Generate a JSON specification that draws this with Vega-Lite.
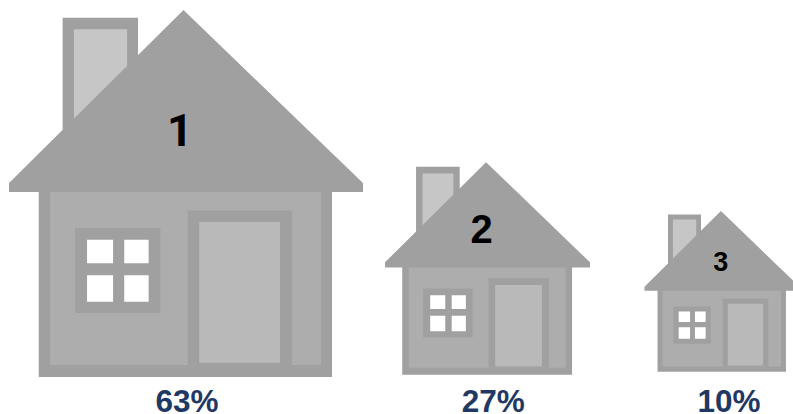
{
  "$schema": "https://vega.github.io/schema/vega-lite/v6.json",
  "width": 793,
  "height": 414,
  "padding": 0,
  "autosize": {"type": "fit", "contains": "padding"},
  "background": "white",
  "config": {"view": {"stroke": null}},
  "data": {
    "values": [
      {"rank": 1, "share": 0.63},
      {"rank": 2, "share": 0.27},
      {"rank": 3, "share": 0.10}
    ]
  },
  "resolve": {"scale": {"x": "independent", "y": "independent", "size": "independent"}},
  "layer": [
    {
      "encoding": {
        "x": {"field": "rank", "type": "quantitative", "axis": null,
          "scale": {"domain": [1, 2, 3], "range": [186, 487.5, 722], "zero": false, "nice": false}},
        "y": {"field": "rank", "type": "quantitative", "axis": null,
          "scale": {"domain": [1, 2, 3], "range": [377, 374.7, 371.7], "zero": false, "nice": false}},
        "size": {"field": "share", "type": "quantitative", "legend": null,
          "scale": {"domain": [0.10, 0.27, 0.63], "range": [24025, 42025, 125316], "zero": false, "nice": false}}
      },
      "layer": [
        {"mark": {"type": "point", "filled": true, "opacity": 1, "clip": true, "fill": "#a0a0a0", "strokeWidth": 0,
          "shape": "M-0.697,-1.2L-0.697,-2.03L-0.271,-2.03L-0.271,-1.2ZM-0.832,-1.06L0.825,-1.06L0.825,0L-0.832,0Z"}},
        {"mark": {"type": "point", "filled": true, "opacity": 1, "clip": true, "fill": "#c6c6c6", "strokeWidth": 0,
          "shape": "M-0.633,-1.3L-0.633,-1.964L-0.333,-1.964L-0.333,-1.3Z"}},
        {"mark": {"type": "point", "filled": true, "opacity": 1, "clip": true, "fill": "#adadad", "strokeWidth": 0,
          "shape": "M-0.768,-1.06L0.763,-1.06L0.763,-0.068L-0.768,-0.068Z"}},
        {"mark": {"type": "point", "filled": true, "opacity": 1, "clip": true, "fill": "#a0a0a0", "strokeWidth": 0,
          "shape": "M-1,-1.045L-1,-1.096L-0.014,-2.073L1,-1.096L1,-1.045ZM0.01,-0.94L0.599,-0.94L0.599,-0.068L0.01,-0.068ZM-0.627,-0.842L-0.145,-0.842L-0.145,-0.362L-0.627,-0.362Z"}},
        {"mark": {"type": "point", "filled": true, "opacity": 1, "clip": true, "fill": "#b9b9b9", "strokeWidth": 0,
          "shape": "M0.075,-0.876L0.531,-0.876L0.531,-0.081L0.075,-0.081Z"}},
        {"mark": {"type": "point", "filled": true, "opacity": 1, "clip": true, "fill": "#ffffff", "strokeWidth": 0,
          "shape": "M-0.559,-0.776L-0.412,-0.776L-0.412,-0.642L-0.559,-0.642ZM-0.349,-0.776L-0.211,-0.776L-0.211,-0.642L-0.349,-0.642ZM-0.559,-0.575L-0.412,-0.575L-0.412,-0.425L-0.559,-0.425ZM-0.349,-0.575L-0.211,-0.575L-0.211,-0.425L-0.349,-0.425Z"}}
      ]
    },
    {
      "encoding": {
        "text": {"field": "rank", "type": "nominal"},
        "x": {"field": "rank", "type": "quantitative", "axis": null,
          "scale": {"domain": [1, 2, 3], "range": [180, 481.7, 720.7], "zero": false, "nice": false}},
        "y": {"field": "rank", "type": "quantitative", "axis": null,
          "scale": {"domain": [1, 2, 3], "range": [131.5, 231, 262.5], "zero": false, "nice": false}},
        "size": {"field": "share", "type": "quantitative", "legend": null,
          "scale": {"domain": [0.10, 0.27, 0.63], "range": [27, 40, 45], "zero": false, "nice": false}}
      },
      "layer": [
        {
          "transform": [{"filter": "datum.rank === 1"}],
          "mark": {"type": "text", "font": "Roboto", "fontWeight": "bold", "fill": "#000000", "align": "center", "baseline": "middle"}
        },
        {
          "transform": [{"filter": "datum.rank > 1"}],
          "mark": {"type": "text", "font": "Liberation Sans", "fontWeight": "bold", "fill": "#000000", "align": "center", "baseline": "middle"}
        }
      ]
    },
    {
      "mark": {"type": "text", "font": "Liberation Sans", "fontWeight": "bold", "fontSize": 31.5, "fill": "#1f3864", "align": "center", "baseline": "middle"},
      "encoding": {
        "text": {"field": "share", "type": "quantitative", "format": ".0%"},
        "x": {"field": "rank", "type": "quantitative", "axis": null,
          "scale": {"domain": [1, 2, 3], "range": [187, 493.3, 729], "zero": false, "nice": false}},
        "y": {"field": "rank", "type": "quantitative", "axis": null,
          "scale": {"domain": [1, 2, 3], "range": [403, 403, 403], "zero": false, "nice": false}}
      }
    }
  ]
}
